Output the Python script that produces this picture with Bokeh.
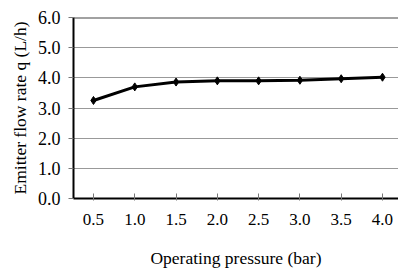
from bokeh.plotting import figure
from bokeh.models import Range1d, FixedTicker, Span, CustomJSTickFormatter
from bokeh.embed import file_html
from bokeh.resources import INLINE

pressure = [0.5, 1.0, 1.5, 2.0, 2.5, 3.0, 3.5, 4.0]
flow = [3.25, 3.70, 3.86, 3.90, 3.90, 3.92, 3.97, 4.02]
x_ticks = [0.5, 1.0, 1.5, 2.0, 2.5, 3.0, 3.5, 4.0]
y_ticks = [0, 1, 2, 3, 4, 5, 6]

FONT = "Liberation Serif"

p = figure(frame_width=325, frame_height=181, output_backend="svg", toolbar_location=None,
           x_range=Range1d(0.258, 4.194), y_range=Range1d(0, 6),
           min_border_left=73, min_border_top=17, min_border_right=0, min_border_bottom=70)
p.outline_line_color = None
p.background_fill_color = "white"

p.line(pressure, flow, line_color="black", line_width=3)
p.scatter(pressure, flow, marker="diamond", size=8, color="black")

p.add_layout(Span(location=6, dimension="width", line_color="#444444", line_width=2))

p.xgrid.visible = False
p.ygrid.ticker = FixedTicker(ticks=y_ticks)
p.ygrid.grid_line_color = "#999999"
p.ygrid.grid_line_width = 1

p.xaxis.ticker = FixedTicker(ticks=x_ticks)
p.xaxis.formatter = CustomJSTickFormatter(code="return tick.toFixed(1);")
p.yaxis.ticker = FixedTicker(ticks=y_ticks)
p.yaxis.formatter = CustomJSTickFormatter(code="return tick.toFixed(1);")

for ax in (p.xaxis, p.yaxis):
    ax.axis_line_color = "black"
    ax.axis_line_width = 2
    ax.major_tick_line_color = "#777777"
    ax.minor_tick_line_color = None
    ax.major_label_text_font = FONT
    ax.major_label_text_font_size = "17px"
    ax.major_label_text_color = "black"
    ax.axis_label_text_font = FONT
    ax.axis_label_text_font_size = "17.5px"
    ax.axis_label_text_font_style = "normal"
    ax.axis_label_text_color = "black"

p.yaxis.major_label_text_font_size = "18px"
p.xaxis.major_tick_in = 5
p.xaxis.major_tick_out = 2
p.yaxis.major_tick_in = 0
p.yaxis.major_tick_out = 5
p.xaxis.major_label_standoff = 13
p.yaxis.major_label_standoff = 8
p.xaxis.axis_label = "Operating pressure (bar)"
p.yaxis.axis_label = "Emitter flow rate q (L/h)"
p.xaxis.axis_label_standoff = 20
p.yaxis.axis_label_standoff = 5

open("out.html", "w").write(file_html(p, INLINE))
